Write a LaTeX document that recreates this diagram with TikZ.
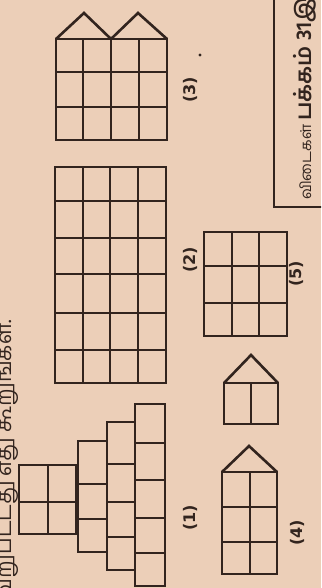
\documentclass[tikz,border=0pt]{standalone}
\usepackage{fontspec}
\newfontfamily\tamilfont[Script=Tamil]{Hind Madurai}
\newfontfamily\labelfont{DejaVu Sans}
\definecolor{paper}{RGB}{236,207,184}
\definecolor{ink}{RGB}{50,36,30}
\tikzset{
  fig/.style={draw=ink,line width=2.6pt,line join=miter},
  lbl/.style={rotate=90,text=ink,inner sep=0pt,font=\labelfont\bfseries\fontsize{16}{19}\selectfont},
  tam/.style={rotate=90,text=ink,inner sep=0pt}
}
\begin{document}
\begin{tikzpicture}[x=1pt,y=-1pt]
\useasboundingbox (0,0) rectangle (321,588);
\fill[paper] (0,0) rectangle (321,588);
\begin{scope}
\clip (0,0) rectangle (321,588);
% figure 3
\draw[fig] (56,39) rectangle (167,140);
\foreach \x in {83,111,139} \draw[fig] (\x,39) -- (\x,140);
\foreach \y in {72,107} \draw[fig] (56,\y) -- (167,\y);
\draw[fig] (56,39) -- (84,13) -- (111,39) -- (138,13) -- (167,39);
% figure 2
\draw[fig] (55,167) rectangle (166,383);
\foreach \x in {83,110,138} \draw[fig] (\x,167) -- (\x,383);
\foreach \y in {201,238,274,313,350} \draw[fig] (55,\y) -- (166,\y);
% figure 5
\draw[fig] (204,232) rectangle (287,336);
\foreach \x in {232,259} \draw[fig] (\x,232) -- (\x,336);
\foreach \y in {266,303} \draw[fig] (204,\y) -- (287,\y);
% small house
\draw[fig] (224,383) rectangle (278,424);
\draw[fig] (251,383) -- (251,424);
\draw[fig] (224,383) -- (251,355) -- (278,383);
% figure 4
\draw[fig] (222,472) rectangle (277,574);
\draw[fig] (250,472) -- (250,574);
\foreach \y in {507,542} \draw[fig] (222,\y) -- (277,\y);
\draw[fig] (222,472) -- (249,446) -- (277,472);
% figure 1
\draw[fig] (19,465) rectangle (48,534);
\draw[fig] (48,465) rectangle (76,534);
\draw[fig] (19,502) -- (76,502);
\draw[fig] (78,441) rectangle (107,552);
\foreach \y in {484,519} \draw[fig] (78,\y) -- (107,\y);
\draw[fig] (107,422) rectangle (135,570);
\foreach \y in {464,502,537} \draw[fig] (107,\y) -- (135,\y);
\draw[fig] (135,404) rectangle (165,586);
\foreach \y in {443,480,518,553} \draw[fig] (135,\y) -- (165,\y);
% labels
\node[lbl] (l3) at (190,90) {(3)};
\node[lbl] (l2) at (190,260) {(2)};
\node[lbl] (l1) at (190,518) {(1)};
\node[lbl] (l5) at (296,274) {(5)};
\node[lbl] (l4) at (297,533) {(4)};
\fill[ink] (200,55) circle (1.6);
% question text (cut at left edge)
\node[tam,anchor=base east,font=\tamilfont\fontsize{21}{24}\selectfont] (q) at (12,320) {மற்றவற்றிலிருந்து வேறுபட்டது எது கூறுங்கள்.};
% answer box (cut at top/right)
\draw[draw=ink,line width=2pt] (274,-5) -- (274,207) -- (330,207);
\node[tam,anchor=base west,font=\tamilfont\fontsize{15}{18}\selectfont] (a) at (311,200) {விடைகள் {\bfseries\fontsize{22}{24}\selectfont பக்கம் 31இல்} உள்ளன};
\end{scope}
\end{tikzpicture}
\end{document}
